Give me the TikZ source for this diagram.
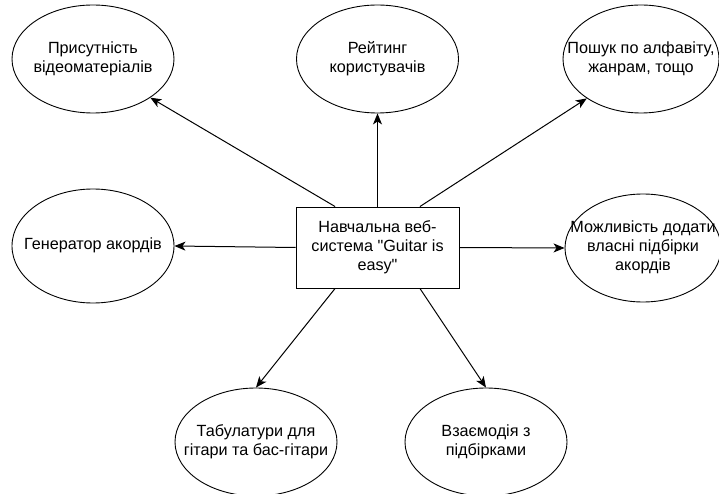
\documentclass[tikz,border=0pt]{standalone}
\usepackage{fontspec}
\setmainfont{Liberation Sans}[Ligatures=TeXOff]
\usetikzlibrary{shapes.geometric,arrows.meta}

\newcommand{\ovaltext}[1]{\makebox[0pt]{\begin{tabular}{@{}c@{}}#1\end{tabular}}}

\begin{document}
\begin{tikzpicture}[x=1pt,y=-1pt]
  \tikzset{idea/.style = {shape=ellipse,draw,line width=0.9pt,minimum width=162pt,minimum height=108pt,inner sep=0pt,font=\fontsize{16.2}{19}\selectfont}}
  \tikzset{sysbox/.style = {shape=rectangle,draw,line width=0.9pt,minimum width=163pt,minimum height=81pt,inner sep=2pt,align=center,font=\fontsize{16.2}{19}\selectfont}}
  \tikzset{link/.style = {-{Stealth[length=11pt,width=9pt,inset=3pt]},line width=1pt}}
  \useasboundingbox (0,0) rectangle (719,494);

	\node[sysbox] (sys) at (377.5,247.5) {Навчальна веб-\\система "Guitar is\\easy"};
	\node[idea] (video) at (93,59) {\ovaltext{Присутність\\відеоматеріалів}};
	\node[idea] (rating) at (377.5,59) {\ovaltext{Рейтинг\\користувачів}};
	\node[idea,minimum width=156pt] (search) at (641,59) {\ovaltext{Пошук по алфавіту,\\жанрам, тощо}};
	\node[idea,minimum height=114pt] (chords) at (93,246) {\ovaltext{Генератор акордів}};
	\node[idea,minimum width=156pt] (own) at (643,248) {\ovaltext{Можливість додати\\власні підбірки\\акордів}};
	\node[idea] (tabs) at (256,442) {\ovaltext{Табулатури для\\гітари та бас-гітари}};
	\node[idea] (inter) at (486,442) {\ovaltext{Взаємодія з\\підбірками}};

    \foreach \from/\to in {sys.136/video.-34, sys.north/rating.south, sys.44/search.216, sys.west/chords.east, sys.east/own.west, sys.-136/tabs.north, sys.-44/inter.north}
    \draw[link] (\from) -- (\to);
\end{tikzpicture}
\end{document}
